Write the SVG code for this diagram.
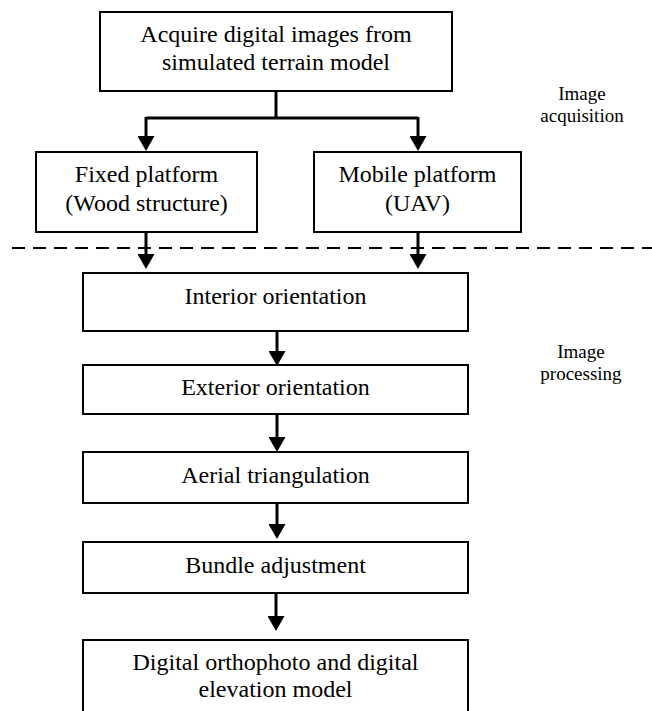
<svg xmlns="http://www.w3.org/2000/svg" width="652" height="711" viewBox="0 0 652 711">
<defs>
<style>
.box{fill:#fff;stroke:#000;stroke-width:2}
.c{fill:none;stroke:#000;stroke-width:3}
.d{fill:none;stroke:#000;stroke-width:2;stroke-dasharray:13 8}
</style>
<marker id="ah" markerUnits="userSpaceOnUse" viewBox="0 0 15 17" markerWidth="15" markerHeight="17" refX="5" refY="8.5" orient="auto">
<path d="M0,0 L15,8.5 L0,17 z" fill="#000"/>
</marker>
</defs>
<rect width="652" height="711" fill="#fff"/>
<g id="connectors">
<path class="c" d="M276,91 V118"/>
<path class="c" d="M146,118 H418"/>
<path class="c" d="M146,117 V141" marker-end="url(#ah)"/>
<path class="c" d="M418,117 V141" marker-end="url(#ah)"/>
<path class="c" d="M146,232 V259" marker-end="url(#ah)"/>
<path class="c" d="M418,232 V259" marker-end="url(#ah)"/>
<path class="c" d="M277,331 V356" marker-end="url(#ah)"/>
<path class="c" d="M277,414 V442" marker-end="url(#ah)"/>
<path class="c" d="M277,503 V529" marker-end="url(#ah)"/>
<path class="c" d="M276,593 V621" marker-end="url(#ah)"/>
</g>
<g id="separator">
<line class="d" x1="12" y1="248" x2="652" y2="248"/>
</g>
<g text-anchor="middle" fill="#000" font-size="24" font-family="Liberation Serif, Times New Roman, serif">
<g id="acquire">
<rect class="box" x="100" y="12" width="352" height="79"/>
<text x="276" y="42">Acquire digital images from</text>
<text x="276" y="70">simulated terrain model</text>
</g>
<g id="fixed">
<rect class="box" x="36" y="152" width="221" height="80"/>
<text x="146.5" y="182">Fixed platform</text>
<text x="146.5" y="211">(Wood structure)</text>
</g>
<g id="mobile">
<rect class="box" x="314" y="152" width="207" height="80"/>
<text x="417.5" y="182">Mobile platform</text>
<text x="417.5" y="211">(UAV)</text>
</g>
<g id="interior">
<rect class="box" x="83" y="273" width="385" height="58"/>
<text x="275.5" y="304">Interior orientation</text>
</g>
<g id="exterior">
<rect class="box" x="83" y="365" width="385" height="49"/>
<text x="275.5" y="395">Exterior orientation</text>
</g>
<g id="aerial">
<rect class="box" x="83" y="452" width="385" height="51"/>
<text x="275.5" y="483">Aerial triangulation</text>
</g>
<g id="bundle">
<rect class="box" x="83" y="542" width="385" height="51"/>
<text x="275.5" y="573">Bundle adjustment</text>
</g>
<g id="output">
<rect class="box" x="83" y="640" width="385" height="85"/>
<text x="275.5" y="670">Digital orthophoto and digital</text>
<text x="275.5" y="697">elevation model</text>
</g>
</g>
<g text-anchor="middle" fill="#000" font-size="19" font-family="Liberation Serif, Times New Roman, serif">
<g id="label-acquisition">
<text x="582" y="100">Image</text>
<text x="582" y="122">acquisition</text>
</g>
<g id="label-processing">
<text x="581" y="358">Image</text>
<text x="581" y="380">processing</text>
</g>
</g>
</svg>
